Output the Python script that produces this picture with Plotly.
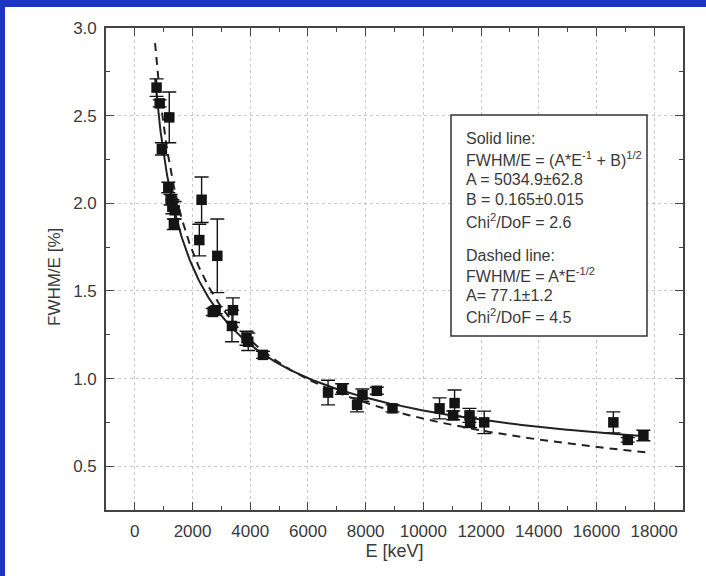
import numpy as np
import plotly.graph_objects as go

# Measured energy resolution (FWHM/E in %) versus gamma energy
energy_kev = [753, 861, 937, 1160, 1240, 1300, 1380, 1354, 1193, 2234, 2314, 2858,
              2700, 2800, 3366, 3400, 3870, 3930, 4441, 6697, 7183, 7703, 7890,
              8387, 8931, 10562, 11035, 11082, 11600, 11620, 12110, 16586, 17085, 17627]
fwhm_pct = [2.66, 2.57, 2.31, 2.09, 2.02, 1.98, 1.96, 1.88, 2.49, 1.79, 2.02, 1.70,
            1.38, 1.39, 1.30, 1.39, 1.23, 1.21, 1.135, 0.92, 0.94, 0.85, 0.905,
            0.93, 0.83, 0.83, 0.79, 0.86, 0.79, 0.75, 0.75, 0.75, 0.65, 0.675]
fwhm_err = [0.05, 0.02, 0.035, 0.03, 0.03, 0.04, 0.05, 0.03, 0.145, 0.09, 0.13, 0.21,
            0.02, 0.02, 0.09, 0.07, 0.04, 0.05, 0.02, 0.07, 0.03, 0.04, 0.035,
            0.02, 0.02, 0.06, 0.025, 0.075, 0.04, 0.03, 0.064, 0.06, 0.013, 0.03]

# Fit parameters
fit_a_solid = 5034.9
fit_b_solid = 0.165
fit_a_dashed = 77.1
fit_e_range = [700, 17700]

x_ticks = [0, 2000, 4000, 6000, 8000, 10000, 12000, 14000, 16000, 18000]
y_ticks = [0.5, 1.0, 1.5, 2.0, 2.5, 3.0]

e_fit = np.linspace(fit_e_range[0], fit_e_range[1], 600)
solid_curve = np.sqrt(fit_a_solid / e_fit + fit_b_solid)
dashed_curve = fit_a_dashed / np.sqrt(e_fit)

ink = "#222222"
text_col = "#3a3a3a"
font_family = "Liberation Sans, Arial, sans-serif"

fig = go.Figure()

fig.add_trace(go.Scatter(
    x=e_fit, y=dashed_curve, mode="lines",
    line=dict(color=ink, width=2, dash="8px,6px"),
    hoverinfo="skip", showlegend=False))
fig.add_trace(go.Scatter(
    x=e_fit, y=solid_curve, mode="lines",
    line=dict(color=ink, width=2),
    hoverinfo="skip", showlegend=False))
fig.add_trace(go.Scatter(
    x=energy_kev, y=fwhm_pct, mode="markers",
    marker=dict(symbol="square", size=10.5, color="#141414"),
    error_y=dict(type="data", array=fwhm_err, visible=True,
                 color="#141414", thickness=1.4, width=7),
    showlegend=False))

axis_common = dict(
    showline=True, linecolor="#444444", linewidth=1.6, mirror="allticks",
    ticks="inside", ticklen=8, tickwidth=1.4, tickcolor="#444444",
    showgrid=True, gridcolor="#c8c8c8", gridwidth=1, griddash="dot",
    zeroline=False,
    tickfont=dict(family=font_family, size=17, color=text_col),
)

fig.update_xaxes(
    range=[-1000, 19000], tickmode="array", tickvals=x_ticks,
    ticktext=[str(v) for v in x_ticks], ticklabelstandoff=5,
    minor=dict(dtick=1000, tick0=0, ticks="inside", ticklen=4,
               tickwidth=1.2, tickcolor="#444444", showgrid=False),
    title=dict(text="E [keV]", font=dict(family=font_family, size=18, color=text_col),
               standoff=4),
    **axis_common)
fig.update_yaxes(
    range=[0.25, 3.0], tickmode="array", tickvals=y_ticks,
    ticktext=[f"{v:.1f}" for v in y_ticks], ticklabelstandoff=4,
    minor=dict(dtick=0.25, tick0=0.25, ticks="inside", ticklen=4,
               tickwidth=1.2, tickcolor="#444444", showgrid=False),
    **axis_common)

pl, pr, pt, pb = 106, 683, 28, 510
pw, ph = pr - pl, pb - pt


def px_x(px):
    return (px - pl) / pw


def px_y(py):
    return (pb - py) / ph


# Y axis title placed next to the tick labels
fig.add_annotation(xref="paper", yref="paper", x=px_x(54), y=px_y(277),
                   xanchor="center", yanchor="middle", textangle=-90,
                   text="FWHM/E [%]", showarrow=False,
                   font=dict(family=font_family, size=17, color=text_col))

# Fit summary box
box_lines = [
    ("Solid line:", 138.3),
    ("FWHM/E = (A*E<sup>-1</sup> + B)<sup>1/2</sup>", 159.3),
    ("A = 5034.9±62.8", 179.5),
    ("B = 0.165±0.015", 200.0),
    ("Chi<sup>2</sup>/DoF = 2.6", 220.7),
    ("Dashed line:", 255.0),
    ("FWHM/E = A*E<sup>-1/2</sup>", 274.5),
    ("A= 77.1±1.2", 295.0),
    ("Chi<sup>2</sup>/DoF = 4.5", 315.5),
]

fig.add_shape(type="rect", xref="paper", yref="paper",
              x0=px_x(451), x1=px_x(647), y0=px_y(336), y1=px_y(115),
              line=dict(color="#333333", width=1.5), fillcolor="white", layer="above")
for txt, yy in box_lines:
    fig.add_annotation(xref="paper", yref="paper", x=px_x(464), y=px_y(yy),
                       xanchor="left", yanchor="middle", text=txt, showarrow=False,
                       font=dict(family=font_family, size=16, color=text_col))

# Blue frame strips along the top and left edges of the page
frame_blue = "#1c34c0"
fig.add_shape(type="rect", xref="paper", yref="paper",
              x0=-0.5, x1=1.5, y0=px_y(7), y1=1.5,
              line=dict(width=0), fillcolor=frame_blue, layer="above")
fig.add_shape(type="rect", xref="paper", yref="paper",
              x0=-0.5, x1=px_x(5), y0=-0.5, y1=1.5,
              line=dict(width=0), fillcolor=frame_blue, layer="above")

fig.update_layout(
    width=706, height=576,
    margin=dict(l=pl, r=706 - pr, t=pt, b=576 - pb),
    paper_bgcolor="white", plot_bgcolor="white",
    font=dict(family=font_family, size=16, color=text_col),
    showlegend=False,
)

fig.write_html("out.html")
